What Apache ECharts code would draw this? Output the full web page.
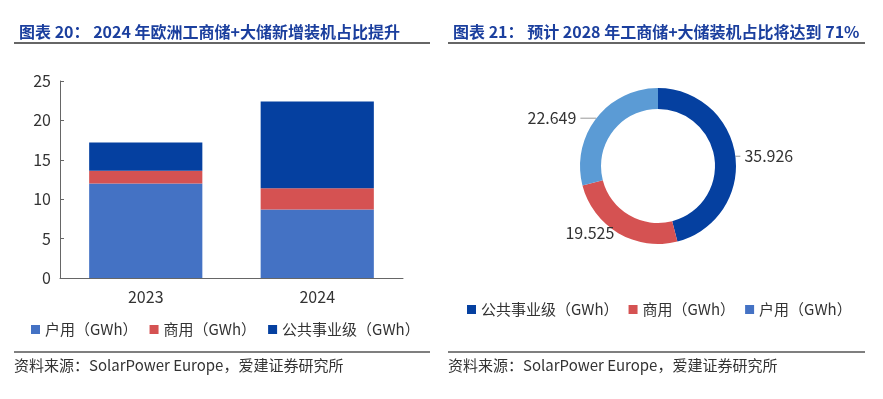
<!DOCTYPE html>
<html>
<head>
<meta charset="utf-8">
<script src="https://cdn.jsdelivr.net/npm/echarts@6/dist/echarts.min.js"></script>
<style>
  html, body { margin: 0; padding: 0; background: #fff; }
  #main { width: 883px; height: 399px; }
</style>
</head>
<body>
<div id="main"></div>
<script>
const years = ['2023', '2024']
const household = [12.0, 8.7]
const commercial = [1.6, 2.7]
const utility = [3.6, 11.0]

const pieNames = ['公共事业级（GWh）', '商用（GWh）', '户用（GWh）']
const pieValues = [35.926, 19.525, 22.649]

const FONT = '"Noto Sans CJK SC", "Noto Sans", sans-serif'
const titleColor = '#1b3f9e'

const chart = echarts.init(document.getElementById('main'))

// 标题、分隔线、资料来源
const deco = []
;[[14, 430], [448, 865]].forEach(([x1, x2]) => {
  deco.push({ type: 'line', shape: { x1, y1: 43, x2, y2: 43 }, style: { stroke: '#666', lineWidth: 2 } })
  deco.push({ type: 'line', shape: { x1, y1: 352, x2, y2: 352 }, style: { stroke: '#555', lineWidth: 1.5 } })
  deco.push({
    type: 'text', left: x1, top: 358,
    style: { text: '资料来源：SolarPower Europe，爱建证券研究所', font: '15px ' + FONT, fill: '#333' }
  })
})

chart.setOption({
  textStyle: { fontFamily: FONT },
  animation: false,
  title: [
    { text: '图表 20： 2024 年欧洲工商储+大储新增装机占比提升', left: 14, top: 19,
      textStyle: { color: titleColor, fontSize: 16, fontWeight: 'bold', fontFamily: FONT } },
    { text: '图表 21： 预计 2028 年工商储+大储装机占比将达到 71%', left: 448, top: 19,
      textStyle: { color: titleColor, fontSize: 16, fontWeight: 'bold', fontFamily: FONT } }
  ],
  graphic: deco,
  legend: [
    { data: ['户用（GWh）', '商用（GWh）', '公共事业级（GWh）'], left: 26, top: 317,
      icon: 'rect', itemWidth: 9, itemHeight: 9, itemGap: 12,
      textStyle: { fontSize: 15, color: '#333', fontFamily: FONT } },
    { data: pieNames, left: 462, top: 297,
      icon: 'rect', itemWidth: 9, itemHeight: 9, itemGap: 10,
      textStyle: { fontSize: 15, color: '#333', fontFamily: FONT } }
  ],
  grid: { left: 60, right: 480, top: 81, bottom: 121 },
  xAxis: {
    type: 'category', data: years,
    axisLine: { lineStyle: { color: '#666' } },
    axisTick: { inside: true, length: 4, lineStyle: { color: '#666' } },
    axisLabel: { fontSize: 16, color: '#333', margin: 11 }
  },
  yAxis: {
    type: 'value', min: 0, max: 25, interval: 5,
    axisLine: { show: true, lineStyle: { color: '#666' } },
    axisTick: { show: true, inside: true, length: 4, lineStyle: { color: '#666' } },
    splitLine: { show: false },
    axisLabel: { fontSize: 16, color: '#333', margin: 9 }
  },
  series: [
    { name: '户用（GWh）', type: 'bar', stack: 'total', data: household, barWidth: '66%',
      itemStyle: { color: '#4472c4' } },
    { name: '商用（GWh）', type: 'bar', stack: 'total', data: commercial,
      itemStyle: { color: '#d55252' } },
    { name: '公共事业级（GWh）', type: 'bar', stack: 'total', data: utility,
      itemStyle: { color: '#0540a0' } },
    {
      type: 'pie', center: [658, 166], radius: [57, 78], startAngle: 90, clockwise: true,
      color: ['#0540a0', '#d55252', '#5b9bd5'],
      label: { show: true, formatter: '{c}', fontSize: 16, color: '#333', distanceToLabelLine: 4 },
      labelLine: { length: 0, length2: 5, lineStyle: { color: '#999' } },
      data: pieNames.map((n, i) => {
        const d = { name: n, value: pieValues[i] }
        if (i === 1) d.labelLine = { show: false, length: 0, length2: 0 }
        if (i === 2) d.labelLine = { length: 0, length2: 16 }
        return d
      })
    }
  ]
})
</script>
</body>
</html>
